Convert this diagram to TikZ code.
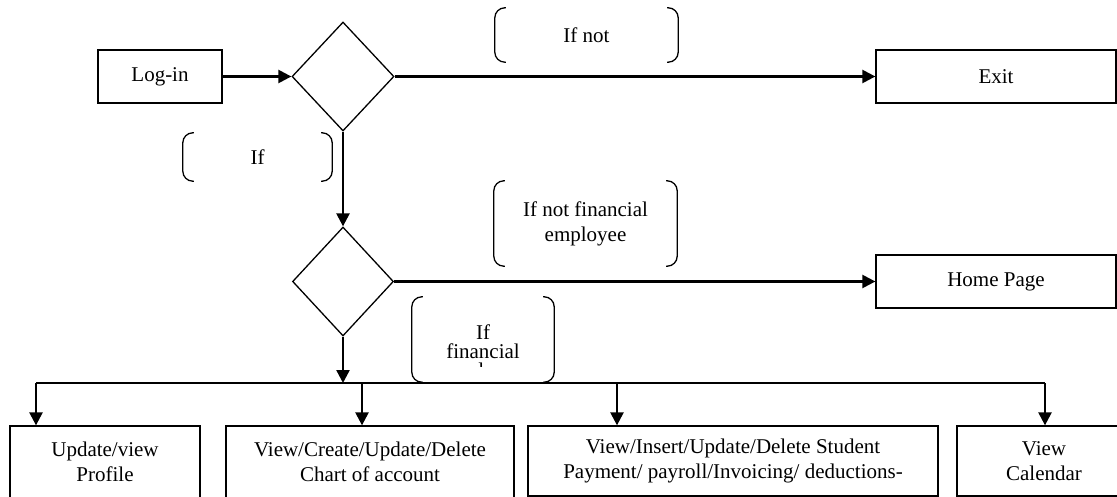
\documentclass[tikz,border=0pt]{standalone}
\usepackage{fontspec}
\setmainfont{Liberation Serif}
\usetikzlibrary{shapes.geometric,arrows.meta}
\begin{document}
\begin{tikzpicture}[x=1pt,y=-1pt,
  every node/.style={font=\fontsize{21}{25}\selectfont, inner sep=0pt},
  box/.style={draw, line width=1.3pt, align=center},
  dec/.style={draw, shape=diamond, line width=1.3pt, inner sep=0pt},
  conn/.style={line width=2.4pt},
  arr/.style={conn, -{Triangle[length=13pt,width=13pt]}},
  brk/.style={line width=1.3pt, rounded corners=10pt},
  lbl/.style={align=center}]
\useasboundingbox (0,0) rectangle (1117,497);
\clip (0,0) rectangle (1117,497);

% main nodes
\node[box, minimum width=124pt, minimum height=53pt] (login) at (160,76.5) {Log-in};
\node[dec, minimum width=102pt, minimum height=109pt] (d1) at (343,76.5) {};
\node[box, minimum width=240pt, minimum height=53pt] (exit) at (996,76.5) {Exit};
\node[dec, minimum width=101pt, minimum height=109pt] (d2) at (343,281.5) {};
\node[box, minimum width=240pt, minimum height=53pt] (home) at (996,281.5) {Home Page};

\node[box, minimum width=190pt, minimum height=72pt] (b1) at (105,462) {Update/view\\Profile};
\node[box, minimum width=288pt, minimum height=72pt] (b2) at (370,462) {View/Create/Update/Delete\\Chart of account};
\node[box, minimum width=410pt, minimum height=70pt] (b3) at (733,461) {View/Insert/Update/Delete Student\\Payment/ payroll/Invoicing/ deductions-};
\node[box, minimum width=174pt, minimum height=70pt] (b4) at (1044,461) {View\\Calendar};

% bracket labels
\node[lbl, minimum width=183pt, minimum height=54pt] (lb1) at (586.5,35) {If not};
\node[lbl, minimum width=149pt, minimum height=48pt] (lb2) at (257.5,157) {If};
\node[lbl, minimum width=183pt, minimum height=85pt] (lb3) at (585.5,223.5) {If not financial\\employee};
\node[minimum width=142pt, minimum height=85pt] (lb4) at (483,339.5) {};
\begin{scope}
  \clip (412,297) rectangle (554,366);
  \node[lbl, anchor=north, font=\fontsize{21}{19}\selectfont] (lb4t) at (483,324.5) {If\\financial\\employee};
\end{scope}

\foreach \n in {lb1,lb2,lb3,lb4}{
  \draw[brk] ([xshift=11pt]\n.north west) -- (\n.north west) -- (\n.south west) -- ([xshift=11pt]\n.south west);
  \draw[brk] ([xshift=-11pt]\n.north east) -- (\n.north east) -- (\n.south east) -- ([xshift=-11pt]\n.south east);
}

% bus coordinates
\coordinate (tm) at (343,383);
\coordinate (t1) at (36,383);
\coordinate (t2) at (362,383);
\coordinate (t3) at (617,383);
\coordinate (t4) at (1045,383);

% connectors
\draw[arr] (login.east) -- (d1.west);
\draw[arr] (d1.east) -- (exit.west);
\draw[arr] (d1.south) -- (d2.north);
\draw[arr] (d2.east) -- (home.west);
\draw[arr] (d2.south) -- (tm);
\draw[conn] (t1) -- (t4);
\draw[arr] (t1) -- (t1 |- b1.north);
\draw[arr] (t2) -- (t2 |- b2.north);
\draw[arr] (t3) -- (t3 |- b3.north);
\draw[arr] (t4) -- (t4 |- b4.north);
\end{tikzpicture}
\end{document}
